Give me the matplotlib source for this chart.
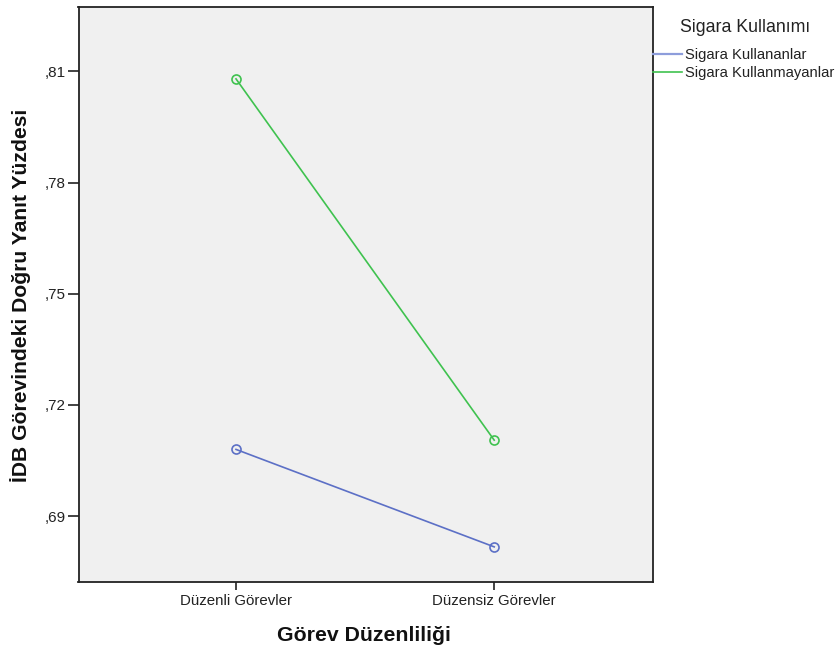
import matplotlib
matplotlib.use("Agg")
import matplotlib.pyplot as plt
from matplotlib.lines import Line2D

categories = ["Düzenli Görevler", "Düzensiz Görevler"]
series_names = ["Sigara Kullananlar", "Sigara Kullanmayanlar"]
kullananlar = [0.7080, 0.6817]
kullanmayanlar = [0.8080, 0.7105]
yticks = [0.69, 0.72, 0.75, 0.78, 0.81]
ytick_labels = [",69", ",72", ",75", ",78", ",81"]

plt.rcParams['font.family'] = ['Liberation Sans', 'DejaVu Sans']

W, H = 835, 649
fig = plt.figure(figsize=(W / 100, H / 100), dpi=100)
ax = fig.add_axes([78.5 / W, 1 - 581.7 / H, (653 - 78.5) / W, (581.7 - 7) / H])
ax.set_facecolor('#F0F0F0')

x = list(range(len(categories)))
blue = '#5c70c6'
green = '#3fc24f'
ax.plot(x, kullananlar, color=blue, lw=1.2, marker='o', markersize=6.5,
        markerfacecolor='none', markeredgewidth=1.2, label=series_names[0])
ax.plot(x, kullanmayanlar, color=green, lw=1.2, marker='o', markersize=6.5,
        markerfacecolor='none', markeredgewidth=1.2, label=series_names[1])

ax.set_xlim(-0.61, 1.615)
ax.set_ylim(0.6723, 0.8274)
ax.set_xticks(x)
ax.set_xticklabels(categories, fontsize=10.8, color='#222222')
ax.set_yticks(yticks)
ax.set_yticklabels(ytick_labels, fontsize=11, color='#222222')
ax.tick_params(axis='y', direction='out', length=8, width=1.2, color='#222222', pad=1)
ax.tick_params(axis='x', direction='out', length=6, width=1.2, color='#222222', pad=3)
for s in ax.spines.values():
    s.set_linewidth(1.3)
    s.set_color('#222222')

fig.text(364 / W, 1 - 635.5 / H, "Görev Düzenliliği", fontsize=15.3, fontweight='bold',
         ha='center', va='center', color='#111111')
fig.text(21 / W, 1 - 295.5 / H, "İDB Görevindeki Doğru Yanıt Yüzdesi", fontsize=15.2,
         fontweight='bold', rotation=90, ha='center', va='center', color='#111111')

fig.text(745 / W, 1 - 27 / H, "Sigara Kullanımı", fontsize=12.8, ha='center', va='center',
         color='#222222')
h1 = Line2D([], [], color='#8d9ddb', lw=1.6)
h2 = Line2D([], [], color=green, lw=1.2)
leg = fig.legend([h1, h2], series_names, loc='upper left',
                 bbox_to_anchor=(653 / W, 1 - 48.5 / H),
                 frameon=False, fontsize=10.6,
                 handlelength=2.0, handletextpad=0.15, labelspacing=0.22,
                 borderaxespad=0, borderpad=0)
for t in leg.get_texts():
    t.set_color('#222222')

fig.savefig("out.png", dpi=100)
